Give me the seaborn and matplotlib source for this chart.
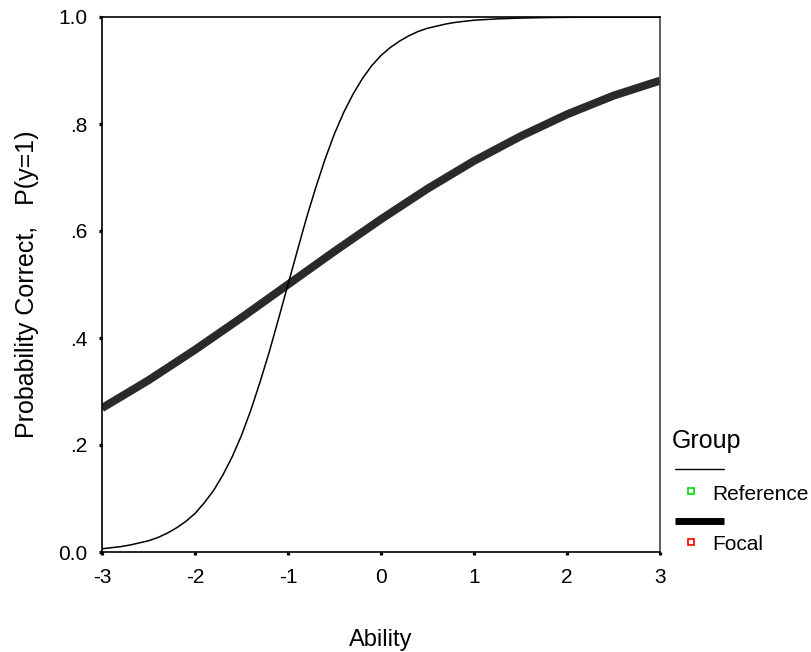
import matplotlib
matplotlib.use("Agg")
import matplotlib.pyplot as plt
import seaborn as sns
import pandas as pd
from matplotlib.lines import Line2D

# ---- data ----
ref_ability = [-3.0, -2.9, -2.8, -2.7, -2.6, -2.5, -2.4, -2.3, -2.2, -2.1,
               -2.0, -1.9, -1.8, -1.7, -1.6, -1.5, -1.4, -1.3, -1.2, -1.1,
               -1.0, -0.9, -0.8, -0.7, -0.6, -0.5, -0.4, -0.3, -0.2, -0.1,
               0.0, 0.1, 0.2, 0.3, 0.4, 0.5, 0.6, 0.7, 0.8, 0.9,
               1.0, 1.25, 1.5, 1.75, 2.0, 2.5, 3.0]
ref_prob = [0.006, 0.008, 0.010, 0.013, 0.017, 0.021, 0.027, 0.035, 0.045, 0.057,
            0.072, 0.092, 0.115, 0.144, 0.178, 0.218, 0.265, 0.318, 0.375, 0.437,
            0.500, 0.563, 0.625, 0.682, 0.735, 0.782, 0.822, 0.856, 0.885, 0.909,
            0.928, 0.943, 0.955, 0.965, 0.973, 0.979, 0.983, 0.987, 0.990, 0.992,
            0.994, 0.9965, 0.998, 0.9989, 0.9994, 0.9998, 0.9999]

foc_ability = [-3.0, -2.5, -2.0, -1.5, -1.0, -0.5, 0.0, 0.5, 1.0, 1.5, 2.0, 2.5, 3.0]
foc_prob = [0.269, 0.321, 0.378, 0.438, 0.500, 0.562, 0.622, 0.679, 0.731, 0.777,
            0.818, 0.853, 0.881]

x_ticks = [-3, -2, -1, 0, 1, 2, 3]
y_ticks = [0.0, 0.2, 0.4, 0.6, 0.8, 1.0]
y_tick_labels = ["0.0", ".2", ".4", ".6", ".8", "1.0"]
groups = ["Reference", "Focal"]
marker_colors = ["#00dd00", "#ff0000"]

sns.set_style("white")
plt.rcParams["font.family"] = ["Liberation Sans", "DejaVu Sans"]
plt.rcParams["text.color"] = "black"
plt.rcParams["axes.labelcolor"] = "black"

W, H = 811, 652
fig = plt.figure(figsize=(W / 100, H / 100), dpi=100)
ax = fig.add_axes([102 / W, 1 - 552 / H, (660 - 102) / W, (552 - 17) / H])

df_ref = pd.DataFrame({"Ability": ref_ability, "P": ref_prob})
df_foc = pd.DataFrame({"Ability": foc_ability, "P": foc_prob})

sns.lineplot(data=df_foc, x="Ability", y="P", ax=ax, color="#2a2a2a",
             linewidth=5.8, solid_capstyle="butt", sort=True)
sns.lineplot(data=df_ref, x="Ability", y="P", ax=ax, color="black",
             linewidth=1.1, sort=True)

ax.set_xlim(-3, 3)
ax.set_ylim(0, 1)
ax.set_xticks(x_ticks)
ax.set_xticklabels([str(t) for t in x_ticks])
ax.set_yticks(y_ticks)
ax.set_yticklabels(y_tick_labels)
ax.tick_params(axis="both", which="major", bottom=True, left=True,
               top=False, right=False, direction="out", length=2.5,
               width=2.3, color="black", labelsize=15, labelcolor="black")
ax.tick_params(axis="x", pad=9)
ax.tick_params(axis="y", pad=8)
for s in ax.spines.values():
    s.set_visible(True)
    s.set_color("black")
    s.set_linewidth(1.2)
ax.spines["right"].set_color("#444444")

ax.set_xlabel("Ability", fontsize=17, labelpad=30)
ax.set_ylabel("Probability Correct,   P(y=1)", fontsize=18, labelpad=14)
ax.grid(False)

# ---- legend (SPSS style) ----
def fx(x):
    return x / W

def fy(y):
    return 1 - y / H

fig.text(fx(672), fy(441), "Group", fontsize=18, va="center", ha="left")
fig.add_artist(Line2D([fx(675), fx(724)], [fy(469), fy(469)], color="black",
                      linewidth=1.0, transform=fig.transFigure))
fig.add_artist(Line2D([fx(691)], [fy(491)], marker="s", markersize=4.5,
                      markerfacecolor="white", markeredgecolor=marker_colors[0],
                      markeredgewidth=1.2, linestyle="none",
                      transform=fig.transFigure))
fig.text(fx(712), fy(494), groups[0], fontsize=15, va="center", ha="left")
fig.add_artist(Line2D([fx(675), fx(724)], [fy(521), fy(521)], color="black",
                      linewidth=5.0, solid_capstyle="butt",
                      transform=fig.transFigure))
fig.add_artist(Line2D([fx(691)], [fy(542)], marker="s", markersize=4.5,
                      markerfacecolor="white", markeredgecolor=marker_colors[1],
                      markeredgewidth=1.2, linestyle="none",
                      transform=fig.transFigure))
fig.text(fx(712), fy(545), groups[1], fontsize=15, va="center", ha="left")

fig.savefig("out.png", dpi=100)
